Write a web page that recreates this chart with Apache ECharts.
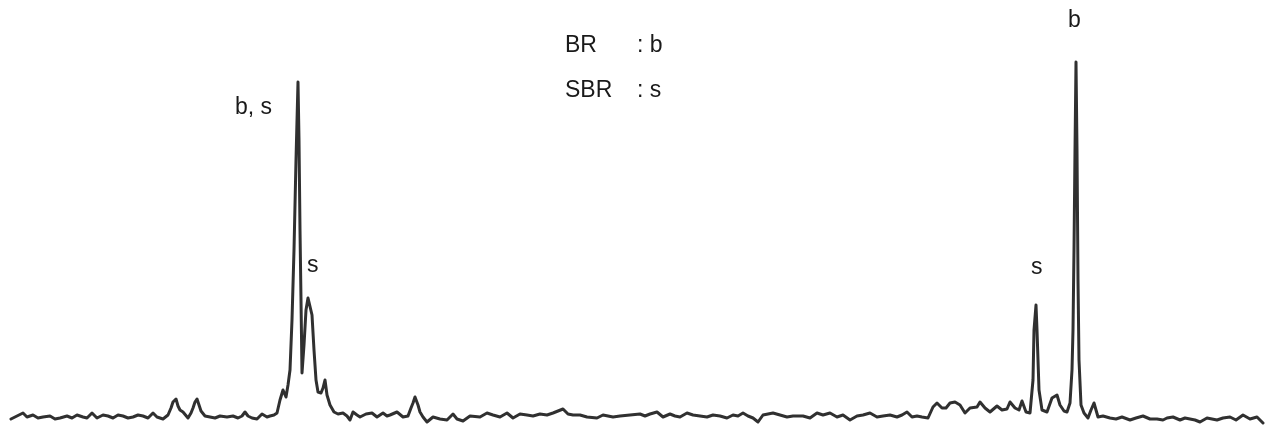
<!DOCTYPE html>
<html>
<head>
<meta charset="utf-8">
<script src="https://cdn.jsdelivr.net/npm/echarts@6/dist/echarts.min.js"></script>
<style>
html,body{margin:0;padding:0;background:#fff;}
#chart{width:1265px;height:428px;}
</style>
</head>
<body>
<div id="chart"></div>
<script>
const channel = [11,17,23,27,33,38,43,50,55,60,67,72,77,83,87,92,97,103,108,113,118,123,128,133,138,143,148,153,157,163,168,171,173,176,178,180,183,188,191,193,195,197,199,201,205,210,215,220,227,233,238,242,245,248,252,257,262,267,270,274,277,280,283,286,288,290,292,294,296,298,299,300,301,302,304,306,308,310,312,314,316,318,321,323,325,327,330,334,338,343,347,350,353,357,360,366,372,377,383,387,390,397,403,408,411,413,415,418,420,423,427,433,440,447,453,457,463,470,480,487,493,500,507,513,520,527,533,540,547,553,558,563,568,573,580,587,597,603,613,620,630,640,645,650,657,663,670,675,680,687,693,700,707,713,720,727,733,738,743,748,753,758,763,768,773,780,787,793,803,810,817,823,830,837,843,850,857,863,870,877,883,890,897,902,907,912,917,922,928,933,937,942,946,950,955,960,965,970,977,980,985,990,997,1002,1007,1010,1015,1019,1022,1026,1030,1033,1034,1036,1037,1039,1042,1047,1052,1057,1060,1064,1067,1070,1072,1073,1074,1075,1076,1077,1078,1079,1081,1084,1088,1091,1094,1096,1098,1103,1110,1116,1122,1130,1136,1143,1150,1157,1163,1167,1173,1180,1185,1190,1195,1200,1207,1212,1217,1223,1230,1236,1243,1250,1257,1263];
const intensity = [9,12,15,11,13,10,11,12,9,10,12,10,13,11,10,15,10,13,12,10,13,12,10,11,13,12,10,15,11,9,13,20,26,29,22,18,16,10,15,20,26,29,23,17,12,11,10,12,11,12,10,12,16,12,10,9,14,11,12,13,15,28,38,31,43,58,108,178,268,346,288,198,128,55,83,118,130,130,113,78,48,36,35,40,48,33,23,16,14,15,12,8,16,13,11,14,15,11,15,12,13,16,11,12,20,25,31,23,16,11,6,11,9,8,14,9,7,12,11,15,13,11,15,10,14,13,12,14,13,15,17,19,14,13,13,11,10,13,11,12,13,14,12,14,16,11,14,12,11,15,13,12,11,13,12,10,13,12,15,12,10,6,13,14,15,13,11,12,12,10,15,13,15,11,13,8,12,13,15,11,12,13,11,13,16,11,12,11,10,21,25,20,20,25,26,23,15,20,21,26,20,16,22,18,19,26,20,18,27,16,15,48,98,123,98,38,18,16,30,33,23,17,16,25,58,98,178,278,366,278,148,68,23,15,10,18,25,18,11,12,10,9,11,8,10,12,9,9,8,10,11,8,10,9,8,6,10,9,8,10,11,8,13,9,11,5];

// Annotation texts
const legendNames = ['BR', 'SBR'];
const legendCodes = [': b', ': s'];
const peakLabels = ['b, s', 's', 's', 'b'];

const chart = echarts.init(document.getElementById('chart'), null, {renderer: 'canvas'});
const seriesData = channel.map((c, i) => [c, intensity[i]]);
const font = '23px "Liberation Sans", Arial, sans-serif';
const txt = (text, x, y) => ({
  type: 'text', left: x, top: y,
  style: {text: text, font: font, fill: '#1a1a1a'}
});

chart.setOption({
  animation: false,
  backgroundColor: '#ffffff',
  grid: {left: 0, right: 0, top: 0, bottom: 0},
  xAxis: {type: 'value', min: 0, max: 1265, show: false},
  yAxis: {type: 'value', min: 0, max: 428, show: false},
  series: [{
    type: 'line',
    data: seriesData,
    symbol: 'none',
    smooth: false,
    lineStyle: {color: '#303030', width: 3, join: 'round', cap: 'round'}
  }],
  graphic: [
    txt(legendNames[0], 565, 34),
    txt(legendCodes[0], 637, 34),
    txt(legendNames[1], 565, 79),
    txt(legendCodes[1], 637, 79),
    txt(peakLabels[0], 235, 96),
    txt(peakLabels[1], 307, 254),
    txt(peakLabels[2], 1031, 256),
    txt(peakLabels[3], 1068, 9)
  ]
});
</script>
</body>
</html>
